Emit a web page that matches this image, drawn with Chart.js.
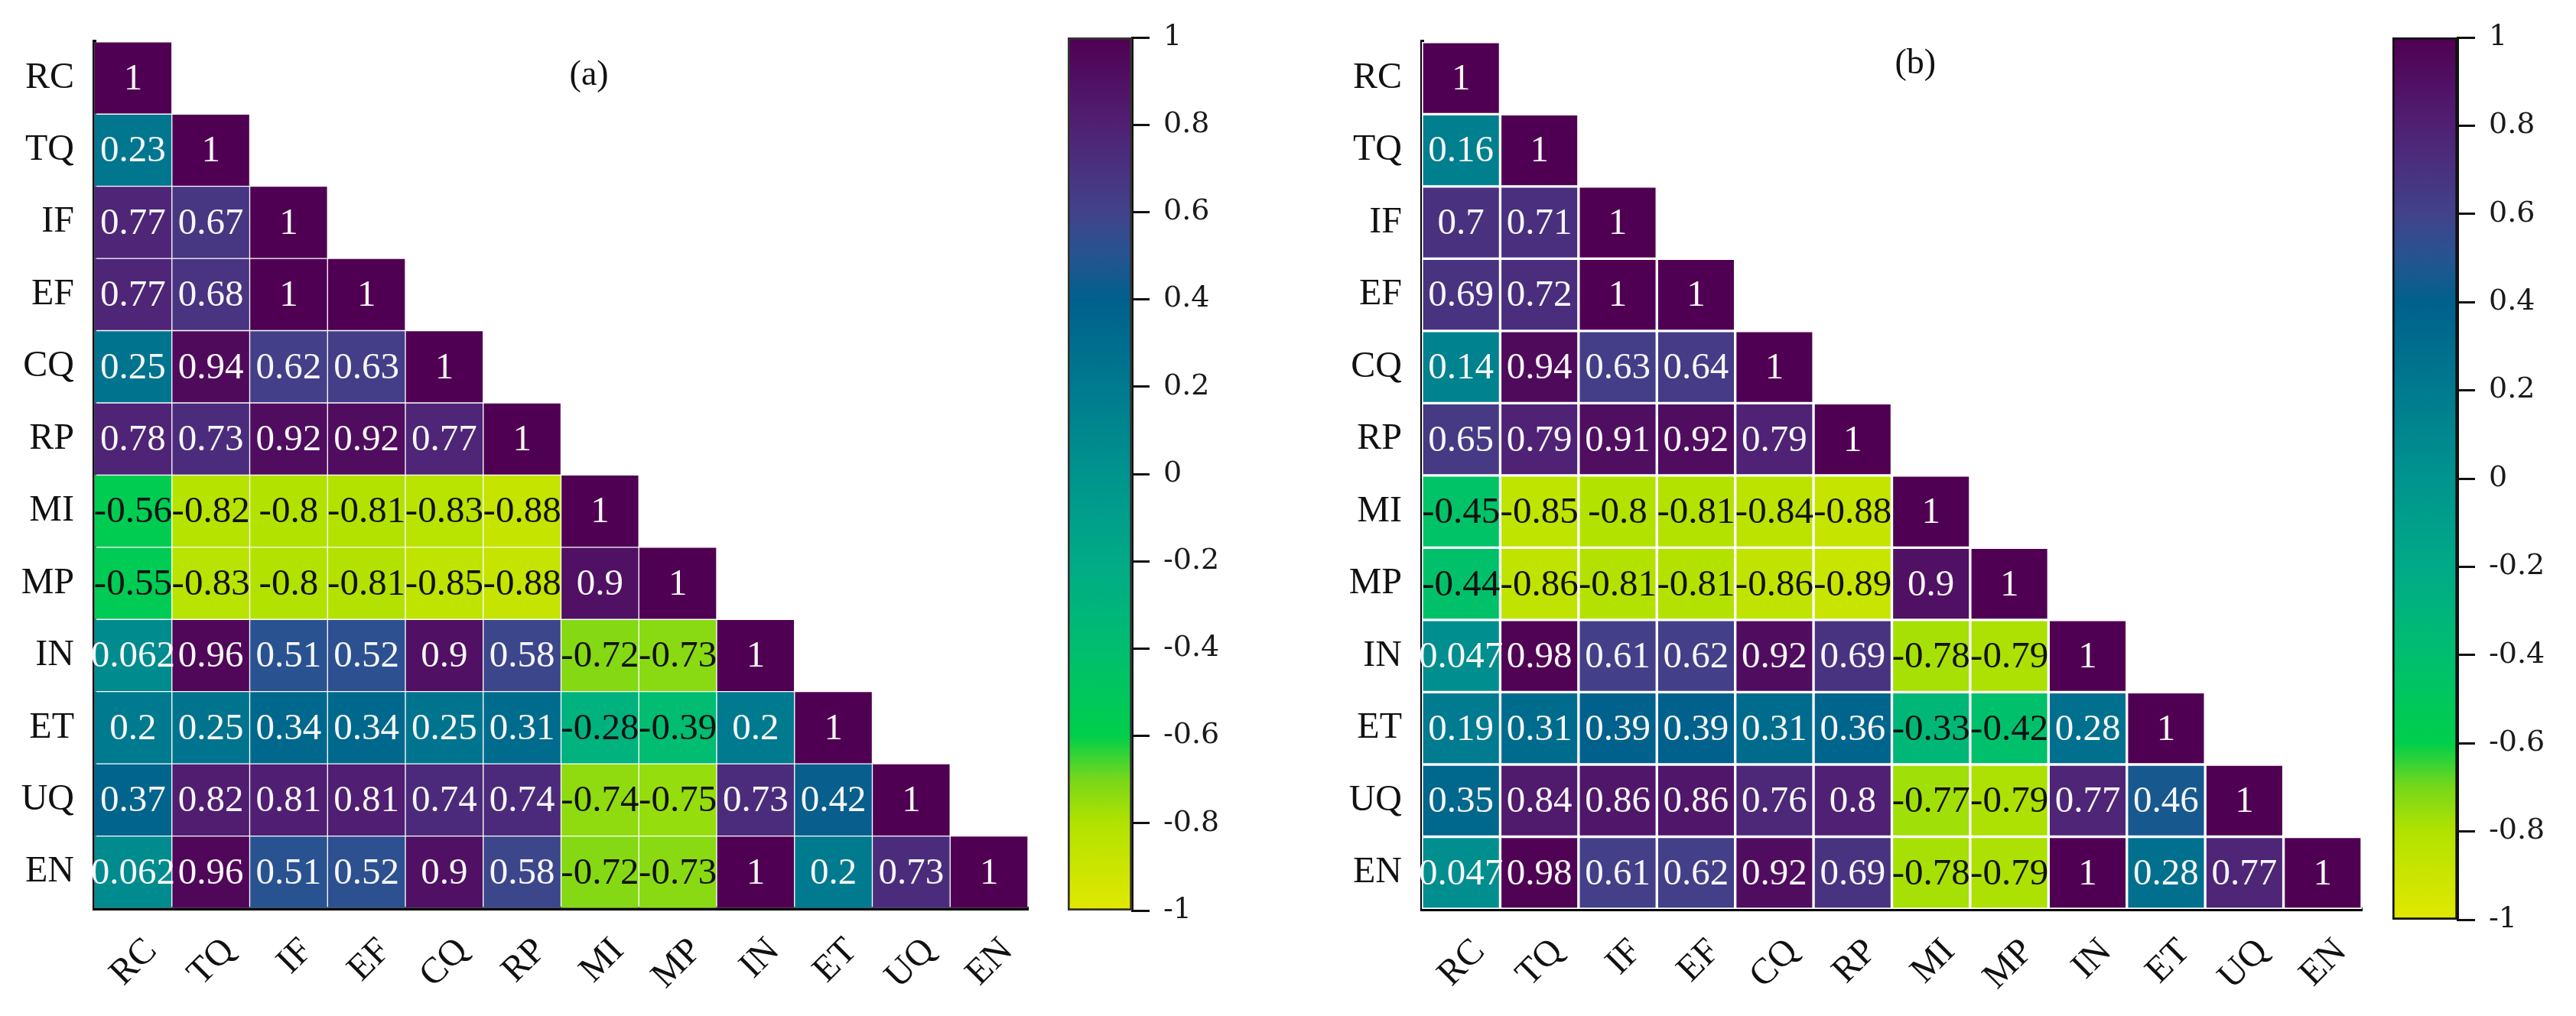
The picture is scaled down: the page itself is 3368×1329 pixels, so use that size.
<!DOCTYPE html>
<html>
<head>
<meta charset="utf-8">
<script src="https://cdn.jsdelivr.net/npm/chart.js@4.4.1/dist/chart.umd.min.js"></script>
<style>
  html, body { margin: 0; padding: 0; background: #fff; }
  body { width: 3368px; height: 1329px; position: relative; overflow: hidden; }
  canvas { position: absolute; top: 0; }
</style>
</head>
<body>
<canvas id="heatA" width="1380" height="1329" style="left:0"></canvas>
<canvas id="barA" width="300" height="1329" style="left:1380px"></canvas>
<canvas id="heatB" width="1440" height="1329" style="left:1680px"></canvas>
<canvas id="barB" width="248" height="1329" style="left:3120px"></canvas>
<script>
// Variáveis (linhas e colunas das duas matrizes)
const variaveis = ["RC", "TQ", "IF", "EF", "CQ", "RP", "MI", "MP", "IN", "ET", "UQ", "EN"];

// Matriz (a) - triângulo inferior, linha por linha
const corrA = [
  [1],
  [0.23, 1],
  [0.77, 0.67, 1],
  [0.77, 0.68, 1, 1],
  [0.25, 0.94, 0.62, 0.63, 1],
  [0.78, 0.73, 0.92, 0.92, 0.77, 1],
  [-0.56, -0.82, -0.8, -0.81, -0.83, -0.88, 1],
  [-0.55, -0.83, -0.8, -0.81, -0.85, -0.88, 0.9, 1],
  [0.062, 0.96, 0.51, 0.52, 0.9, 0.58, -0.72, -0.73, 1],
  [0.2, 0.25, 0.34, 0.34, 0.25, 0.31, -0.28, -0.39, 0.2, 1],
  [0.37, 0.82, 0.81, 0.81, 0.74, 0.74, -0.74, -0.75, 0.73, 0.42, 1],
  [0.062, 0.96, 0.51, 0.52, 0.9, 0.58, -0.72, -0.73, 1, 0.2, 0.73, 1]
];

// Matriz (b)
const corrB = [
  [1],
  [0.16, 1],
  [0.7, 0.71, 1],
  [0.69, 0.72, 1, 1],
  [0.14, 0.94, 0.63, 0.64, 1],
  [0.65, 0.79, 0.91, 0.92, 0.79, 1],
  [-0.45, -0.85, -0.8, -0.81, -0.84, -0.88, 1],
  [-0.44, -0.86, -0.81, -0.81, -0.86, -0.89, 0.9, 1],
  [0.047, 0.98, 0.61, 0.62, 0.92, 0.69, -0.78, -0.79, 1],
  [0.19, 0.31, 0.39, 0.39, 0.31, 0.36, -0.33, -0.42, 0.28, 1],
  [0.35, 0.84, 0.86, 0.86, 0.76, 0.8, -0.77, -0.79, 0.77, 0.46, 1],
  [0.047, 0.98, 0.61, 0.62, 0.92, 0.69, -0.78, -0.79, 1, 0.28, 0.77, 1]
];

// Escala da barra de cores
const escalaMin = -1;
const escalaMax = 1;
const escalaPasso = 0.2;

// Paleta tipo viridis invertida (amarelo = -1, roxo = 1)
const paleta = [
  [-1.0, [226, 232, 0]],
  [-0.8, [178, 226, 0]],
  [-0.7, [120, 215, 25]],
  [-0.6, [0, 207, 75]],
  [-0.4, [0, 190, 112]],
  [-0.2, [0, 170, 135]],
  [0.0, [0, 148, 142]],
  [0.2, [0, 122, 143]],
  [0.4, [0, 96, 140]],
  [0.5, [38, 84, 145]],
  [0.6, [66, 66, 138]],
  [0.8, [80, 32, 116]],
  [1.0, [80, 0, 82]]
];

const serifa = '"Liberation Serif", "Times New Roman", serif';

function corDaEscala(v) {
  for (let k = 1; k < paleta.length; k++) {
    const [v1, c1] = paleta[k];
    const [v0, c0] = paleta[k - 1];
    if (v <= v1) {
      const t = (v - v0) / (v1 - v0);
      const c = c0.map((a, i) => Math.round(a + (c1[i] - a) * t));
      return `rgb(${c[0]},${c[1]},${c[2]})`;
    }
  }
  const c = paleta[paleta.length - 1][1];
  return `rgb(${c[0]},${c[1]},${c[2]})`;
}

// Escreve o valor dentro de cada célula e o rótulo do painel
const rotulosCelulas = {
  id: "rotulosCelulas",
  afterDatasetsDraw(chart, args, opts) {
    const ctx = chart.ctx;
    ctx.save();
    ctx.font = `${opts.size}px ${serifa}`;
    ctx.textAlign = "center";
    ctx.textBaseline = "middle";
    chart.data.datasets.forEach((ds, i) => {
      chart.getDatasetMeta(i).data.forEach((el, j) => {
        const v = ds.data[j].v;
        ctx.fillStyle = v < 0 ? "#111" : "#f6f6f6";
        ctx.fillText(String(v), el.x, (el.y + el.base) / 2 + 2);
      });
    });
    const area = chart.chartArea;
    ctx.fillStyle = "#111";
    ctx.font = `46px ${serifa}`;
    ctx.fillText(opts.painel, area.left + area.width * opts.px, area.top + opts.py);
    ctx.restore();
  }
};

function heatmap(id, matriz, cfg) {
  const datasets = matriz.map((linha, i) => ({
    data: linha.map((v, j) => ({ x: variaveis[j], y: [i - 0.5, i + 0.5], v: v })),
    backgroundColor: linha.map(corDaEscala),
    borderColor: cfg.corGrade,
    borderWidth: cfg.larguraGrade,
    borderSkipped: false,
    grouped: false,
    categoryPercentage: 1,
    barPercentage: 1
  }));

  return new Chart(document.getElementById(id), {
    type: "bar",
    data: { labels: variaveis, datasets: datasets },
    plugins: [rotulosCelulas],
    options: {
      responsive: false,
      animation: false,
      layout: { padding: { top: cfg.topo, right: cfg.direita, left: 0, bottom: 0 } },
      plugins: {
        legend: { display: false },
        tooltip: { enabled: false },
        rotulosCelulas: { size: 49, painel: cfg.painel, px: cfg.px, py: cfg.py }
      },
      scales: {
        x: {
          type: "category",
          grid: { display: false, drawTicks: false },
          border: { display: true, color: "#000", width: 5 },
          ticks: {
            autoSkip: false,
            minRotation: 45,
            maxRotation: 45,
            padding: 28,
            labelOffset: 24,
            color: "#111",
            font: { family: serifa, size: 48 }
          },
          afterFit: (s) => { s.height = cfg.alturaX; }
        },
        y: {
          type: "linear",
          reverse: true,
          min: -0.5,
          max: variaveis.length - 0.5,
          grid: { display: false, drawTicks: false },
          border: { display: true, color: "#000", width: 5 },
          afterBuildTicks: (s) => { s.ticks = variaveis.map((_, i) => ({ value: i })); },
          ticks: {
            padding: 26,
            color: "#111",
            font: { family: serifa, size: 48 },
            callback: (v) => variaveis[Math.round(v)]
          },
          afterFit: (s) => { s.width = cfg.larguraY; }
        }
      }
    }
  });
}

function gradienteEscala(c) {
  const chart = c.chart;
  if (!chart.chartArea) return "#888";
  const ys = chart.scales.y;
  const g = chart.ctx.createLinearGradient(0, ys.getPixelForValue(escalaMin), 0, ys.getPixelForValue(escalaMax));
  paleta.forEach(([v, rgb]) => {
    g.addColorStop((v - escalaMin) / (escalaMax - escalaMin), `rgb(${rgb[0]},${rgb[1]},${rgb[2]})`);
  });
  return g;
}

function barraCores(id, cfg) {
  return new Chart(document.getElementById(id), {
    type: "bar",
    data: {
      labels: [""],
      datasets: [{
        data: [[escalaMin, escalaMax]],
        backgroundColor: gradienteEscala,
        borderColor: cfg.moldura,
        borderWidth: 3,
        borderSkipped: false,
        categoryPercentage: 1,
        barPercentage: 1
      }]
    },
    options: {
      responsive: false,
      animation: false,
      layout: { padding: { left: cfg.esquerda, top: cfg.topo, bottom: cfg.base, right: 0 } },
      plugins: { legend: { display: false }, tooltip: { enabled: false } },
      scales: {
        x: { display: false },
        y: {
          position: "right",
          min: escalaMin,
          max: escalaMax,
          ticks: {
            stepSize: escalaPasso,
            padding: 18,
            color: "#1a1a1a",
            font: { family: '"DejaVu Serif", serif', size: 38 },
            callback: (v) => String(+Number(v).toFixed(1))
          },
          grid: { drawOnChartArea: false, drawTicks: true, tickLength: 23, color: "#111", lineWidth: 3 },
          border: { display: true, color: "#111", width: 3 },
          afterFit: (s) => { s.width = cfg.larguraEixo; }
        }
      }
    }
  });
}

// Painel (a)
heatmap("heatA", corrA, {
  painel: "(a)", px: 0.53, py: 44,
  topo: 45, direita: 36, larguraY: 123, alturaX: 141,
  corGrade: "rgba(255,255,255,0.35)", larguraGrade: 1
});
barraCores("barA", { esquerda: 16, topo: 49, base: 138, larguraEixo: 200, moldura: "#333" });

// Painel (b)
heatmap("heatB", corrB, {
  painel: "(b)", px: 0.525, py: 29,
  topo: 33, direita: 32, larguraY: 179, alturaX: 140,
  corGrade: "#ffffff", larguraGrade: 2
});
barraCores("barB", { esquerda: 8, topo: 49, base: 126, larguraEixo: 155, moldura: "#111" });
</script>
</body>
</html>
